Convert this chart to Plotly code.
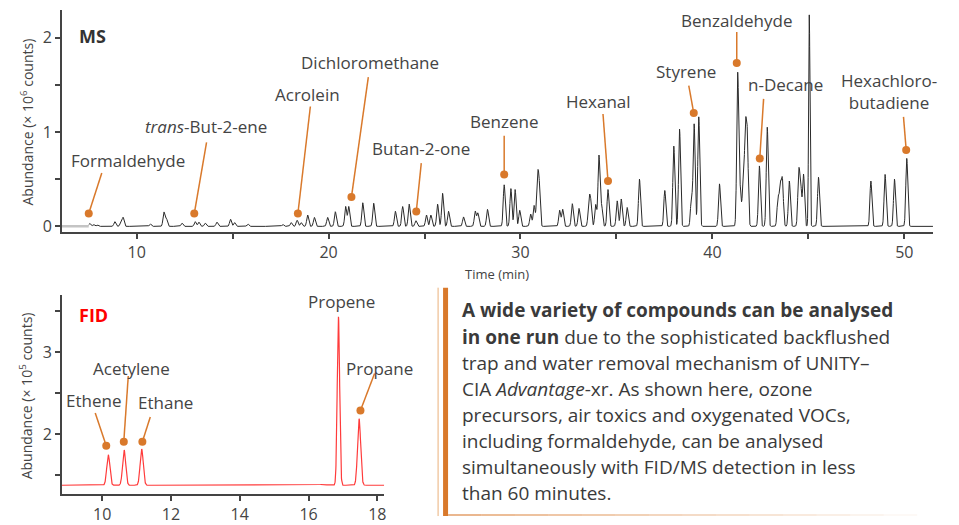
import numpy as np
import plotly.graph_objects as go

# ---------------- DATA ----------------
# MS chromatogram peaks: retention time (min), apex abundance (x10^6 counts)
ms_peak_times = [7.55, 7.75, 7.95, 8.86, 9.17, 9.29, 10.71, 11.42, 11.55, 12.36,
                 13.05, 13.24, 13.57, 14.18, 14.89, 15.10, 15.79, 17.61, 18.05, 18.36,
                 18.57, 18.91, 19.26, 19.95, 20.35, 20.89, 21.05, 21.78, 22.35, 23.48,
                 23.86, 24.20, 24.55, 25.10, 25.33, 25.68, 25.94, 26.25, 27.03, 27.64,
                 27.78, 28.28, 29.15, 29.50, 29.72, 29.96, 30.53, 30.71, 30.88, 30.97,
                 32.04, 32.20, 32.70, 33.05, 33.57, 33.66, 33.92, 34.09, 34.23, 34.56,
                 35.04, 35.25, 35.56, 36.20, 37.52, 37.99, 38.29, 38.91, 39.05, 39.29,
                 40.37, 41.32, 41.45, 41.60, 41.72, 41.82, 42.45, 42.86, 43.42, 43.54,
                 43.65, 44.01, 44.50, 44.60, 44.75, 45.05, 45.53, 48.26, 49.00, 49.49,
                 50.13]
ms_peak_heights = [0.03, 0.02, 0.015, 0.05, 0.035, 0.095, 0.025, 0.15, 0.08, 0.035,
                   0.05, 0.045, 0.035, 0.045, 0.075, 0.04, 0.025, 0.02, 0.04, 0.065,
                   0.04, 0.12, 0.095, 0.095, 0.155, 0.21, 0.21, 0.25, 0.245, 0.16,
                   0.21, 0.235, 0.06, 0.12, 0.12, 0.235, 0.35, 0.16, 0.10, 0.16,
                   0.14, 0.18, 0.44, 0.40, 0.39, 0.17, 0.13, 0.22, 0.47, 0.43,
                   0.17, 0.18, 0.24, 0.19, 0.27, 0.24, 0.23, 0.75, 0.22, 0.39,
                   0.27, 0.29, 0.20, 0.50, 0.38, 0.85, 1.03, 0.31, 1.08, 1.16,
                   0.45, 1.62, 0.38, 0.42, 0.98, 0.90, 0.64, 1.05, 0.30, 0.42,
                   0.48, 0.48, 0.55, 0.42, 0.55, 2.24, 0.52, 0.48, 0.55, 0.50,
                   0.72]

# MS labelled compounds
ms_labels = ["Formaldehyde", "<i>trans</i>-But-2-ene", "Acrolein", "Dichloromethane",
             "Butan-2-one", "Benzene", "Hexanal", "Styrene", "Benzaldehyde",
             "n-Decane", "Hexachloro-<br>butadiene"]
ms_label_times = [7.50, 13.00, 18.40, 21.19, 24.57, 29.15, 34.56, 39.03, 41.27, 42.47, 50.10]
ms_label_values = [0.136, 0.136, 0.136, 0.31, 0.157, 0.55, 0.48, 1.20, 1.73, 0.72, 0.81]

# FID chromatogram peaks: retention time (min), apex abundance (x10^5 counts)
fid_baseline = 1.38
fid_peak_times = [10.18, 10.64, 11.15, 16.40, 16.87, 17.47]
fid_peak_heights = [1.75, 1.81, 1.82, 1.39, 3.43, 2.19]

fid_labels = ["Ethene", "Acetylene", "Ethane", "Propene", "Propane"]
fid_label_times = [10.12, 10.63, 11.17, None, 17.51]
fid_label_values = [1.86, 1.91, 1.91, None, 2.29]

ms_x_ticks = [10, 15, 20, 25, 30, 35, 40, 45, 50]
ms_x_ticktext = ["10", "", "20", "", "30", "", "40", "", "50"]
ms_y_ticks = [0, 0.5, 1, 1.5, 2]
ms_y_ticktext = ["0", "", "1", "", "2"]
fid_x_ticks = [10, 12, 14, 16, 18]
fid_y_ticks = [1.5, 2, 2.5, 3, 3.5]
fid_y_ticktext = ["", "2", "", "3", ""]

text_lines = [
    "<b>A wide variety of compounds can be analysed</b>",
    "<b>in one run</b> due to the sophisticated backflushed",
    "trap and water removal mechanism of UNITY–",
    "CIA <i>Advantage</i>-xr. As shown here, ozone",
    "precursors, air toxics and oxygenated VOCs,",
    "including formaldehyde, can be analysed",
    "simultaneously with FID/MS detection in less",
    "than 60 minutes.",
]

# ---------------- LAYOUT / STYLE ----------------
W, H = 959, 525
FONT = "Open Sans"
ORANGE = "#d9792b"
AX = "#444444"
TXT = "#444444"

MS_XR = [6.1, 51.5]
MS_YR = [-0.063, 2.293]
FID_XR = [8.83, 18.2]
FID_YR = [1.27, 3.70]

def px_dom(a, b, total):
    return [a / total, b / total]

ms_xdom = px_dom(62, 935, W)
ms_ydom = [1 - 235 / H, 1 - 10 / H]
fid_xdom = px_dom(62, 385, W)
fid_ydom = [1 - 500 / H, 1 - 298 / H]

# label placement (data coords): line top point and text centre
ms_lab_pos = [  # (line_top_x, line_top_y, text_x, text_y)
    (8.18, 0.565, 9.53, 0.70),
    (13.64, 0.89, 13.59, 1.06),
    (19.05, 1.27, 18.90, 1.40),
    (22.07, 1.58, 22.17, 1.74),
    (24.83, 0.67, 24.83, 0.83),
    (29.15, 0.96, 29.15, 1.11),
    (34.30, 1.19, 34.09, 1.32),
    (38.77, 1.49, 38.62, 1.64),
    (41.27, 2.06, 41.27, 2.18),
    (42.67, 1.35, 43.82, 1.50),
    (49.96, 1.16, 49.23, 1.43),
]
fid_lab_pos = [
    (9.80, 2.26, 9.74, 2.41),
    (10.76, 2.71, 10.85, 2.80),
    (11.40, 2.21, 11.84, 2.39),
    (None, None, 16.96, 3.61),
    (17.92, 2.74, 18.06, 2.80),
]

# ---------------- BUILD TRACES ----------------
ms_sigma = 0.05
t_ms = np.arange(ms_peak_times[0] - 0.05, MS_XR[1], 0.005)
y_ms = np.zeros_like(t_ms)
for t0, h in zip(ms_peak_times, ms_peak_heights):
    s = 0.035 if h > 2 else ms_sigma
    y_ms += h * np.exp(-0.5 * ((t_ms - t0) / s) ** 2)

fid_sigma = 0.045
t_fid = np.arange(FID_XR[0], FID_XR[1], 0.004)
y_fid = np.full_like(t_fid, fid_baseline)
for t0, h in zip(fid_peak_times, fid_peak_heights):
    s = 0.035 if h > 3 else (0.12 if h - fid_baseline < 0.05 else fid_sigma)
    y_fid += (h - fid_baseline) * np.exp(-0.5 * ((t_fid - t0) / s) ** 2)

fig = go.Figure()

# gray baseline before MS acquisition
fig.add_trace(go.Scatter(x=[MS_XR[0], t_ms[0]], y=[0, 0], mode="lines",
                         line=dict(color="#c4c4c4", width=2.5), xaxis="x", yaxis="y",
                         hoverinfo="skip", showlegend=False))
fig.add_trace(go.Scatter(x=t_ms, y=y_ms, mode="lines", line=dict(color="#2a2a2a", width=1),
                         xaxis="x", yaxis="y", showlegend=False))
fig.add_trace(go.Scatter(x=t_fid, y=y_fid, mode="lines", line=dict(color="#ff3b3b", width=1.2),
                         xaxis="x2", yaxis="y2", showlegend=False))

# MS leader lines + dots
lx, ly = [], []
for (tx, ty), (x1, y1, _, _) in zip(zip(ms_label_times, ms_label_values), ms_lab_pos):
    lx += [tx, x1, None]
    ly += [ty, y1, None]
fig.add_trace(go.Scatter(x=lx, y=ly, mode="lines", line=dict(color=ORANGE, width=1.5),
                         xaxis="x", yaxis="y", showlegend=False, hoverinfo="skip"))
fig.add_trace(go.Scatter(x=ms_label_times, y=ms_label_values, mode="markers",
                         marker=dict(color=ORANGE, size=8), xaxis="x", yaxis="y",
                         showlegend=False))

flx, fly, fdx, fdy = [], [], [], []
for tx, ty, (x1, y1, _, _) in zip(fid_label_times, fid_label_values, fid_lab_pos):
    if tx is None:
        continue
    flx += [tx, x1, None]
    fly += [ty, y1, None]
    fdx.append(tx)
    fdy.append(ty)
fig.add_trace(go.Scatter(x=flx, y=fly, mode="lines", line=dict(color=ORANGE, width=1.5),
                         xaxis="x2", yaxis="y2", showlegend=False, hoverinfo="skip"))
fig.add_trace(go.Scatter(x=fdx, y=fdy, mode="markers", marker=dict(color=ORANGE, size=8),
                         xaxis="x2", yaxis="y2", showlegend=False, cliponaxis=False))

annotations = []
for name, (_, _, tx, ty) in zip(ms_labels, ms_lab_pos):
    annotations.append(dict(x=tx, y=ty, xref="x", yref="y", text=name, showarrow=False,
                            font=dict(family=FONT, size=17, color=TXT)))
for name, (_, _, tx, ty) in zip(fid_labels, fid_lab_pos):
    annotations.append(dict(x=tx, y=ty, xref="x2", yref="y2", text=name, showarrow=False,
                            font=dict(family=FONT, size=17, color=TXT)))

annotations += [
    dict(x=77 / W, y=1 - 36 / H, xref="paper", yref="paper", xanchor="left", yanchor="middle",
         text="<b>MS</b>", showarrow=False, font=dict(family=FONT, size=18, color="#333333")),
    dict(x=77 / W, y=1 - 319 / H, xref="paper", yref="paper", xanchor="left", yanchor="middle",
         text="<b>FID</b>", showarrow=False, font=dict(family=FONT, size=18, color="#ff0000")),
    dict(x=27 / W, y=1 - 123 / H, xref="paper", yref="paper", textangle=-90,
         xanchor="center", yanchor="middle",
         text="Abundance (× 10<sup>6</sup> counts)", showarrow=False,
         font=dict(family=FONT, size=14, color=TXT)),
    dict(x=27 / W, y=1 - 400 / H, xref="paper", yref="paper", textangle=-90,
         xanchor="center", yanchor="middle",
         text="Abundance (× 10<sup>5</sup> counts)", showarrow=False,
         font=dict(family=FONT, size=14, color=TXT)),
    dict(x=498 / W, y=1 - 277 / H, xref="paper", yref="paper", xanchor="center", yanchor="middle",
         text="Time (min)", showarrow=False, font=dict(family=FONT, size=13, color=TXT)),
]

line_y0, line_dy = 314, 26.4
for i, ln in enumerate(text_lines):
    annotations.append(dict(x=461 / W, y=1 - (line_y0 + i * line_dy) / H, xref="paper", yref="paper",
                            xanchor="left", yanchor="middle", text=ln, showarrow=False,
                            font=dict(family=FONT, size=19, color="#3a3a3a")))

shapes = [
    dict(type="line", xref="paper", yref="paper", x0=439 / W, x1=439 / W,
         y0=1 - 291 / H, y1=1 - 522 / H, line=dict(color="#eab07a", width=1)),
    dict(type="rect", xref="paper", yref="paper", x0=444 / W, x1=449 / W,
         y0=1 - 291 / H, y1=1 - 522 / H, line=dict(width=0), fillcolor=ORANGE),
]
nseg = 14
for k in range(nseg):
    xa = 449 + k * (470 / nseg)
    xb = 449 + (k + 1) * (470 / nseg)
    shapes.append(dict(type="line", xref="paper", yref="paper", x0=xa / W, x1=xb / W,
                       y0=1 - 521 / H, y1=1 - 521 / H,
                       line=dict(color=ORANGE, width=1.5), opacity=max(0.05, 0.7 * (1 - k / nseg))))

axis_common = dict(showline=True, linecolor=AX, linewidth=1.5, ticks="outside", ticklen=5,
                   tickcolor=AX, tickwidth=1.5, showgrid=False, zeroline=False,
                   tickfont=dict(family=FONT, size=16, color=TXT))

fig.update_layout(
    width=W, height=H, margin=dict(l=0, r=0, t=0, b=0),
    paper_bgcolor="white", plot_bgcolor="white",
    xaxis=dict(domain=ms_xdom, range=MS_XR, anchor="y", tickmode="array",
               tickvals=ms_x_ticks, ticktext=ms_x_ticktext, **axis_common),
    yaxis=dict(domain=ms_ydom, range=MS_YR, anchor="x", tickmode="array",
               tickvals=ms_y_ticks, ticktext=ms_y_ticktext, **axis_common),
    xaxis2=dict(domain=fid_xdom, range=FID_XR, anchor="y2", tickmode="array",
                tickvals=fid_x_ticks, **axis_common),
    yaxis2=dict(domain=fid_ydom, range=FID_YR, anchor="x2", tickmode="array",
                tickvals=fid_y_ticks, ticktext=fid_y_ticktext, **axis_common),
    annotations=annotations, shapes=shapes, showlegend=False,
    font=dict(family=FONT, color=TXT),
)

fig.write_html("out.html")
